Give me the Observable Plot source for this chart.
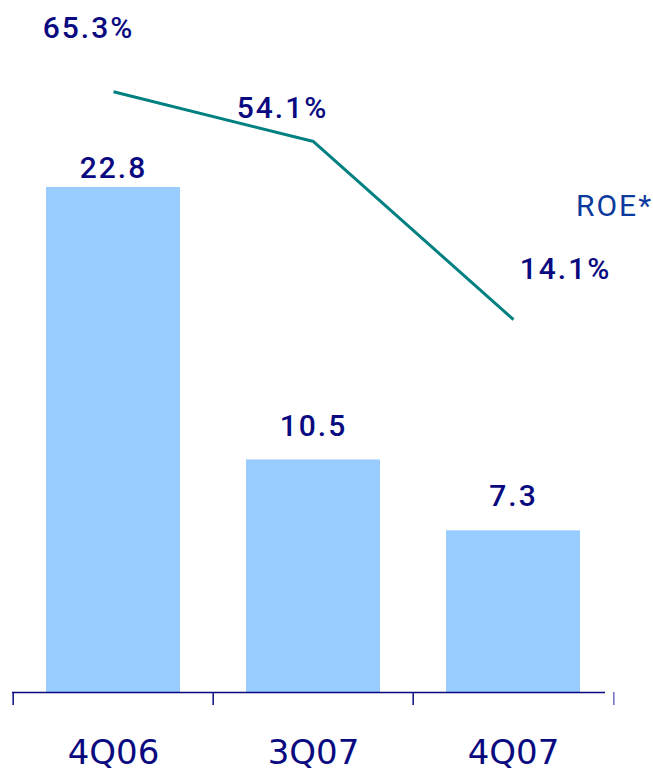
<!DOCTYPE html>
<html>
<head>
<meta charset="utf-8">
<script src="https://cdn.jsdelivr.net/npm/d3@7"></script>
<script src="https://cdn.jsdelivr.net/npm/@observablehq/plot@0.6"></script>
<style>
  html, body { margin: 0; padding: 0; background: #ffffff; }
  #chart { width: 653px; height: 770px; }
</style>
</head>
<body>
<div id="chart"></div>
<script>
// ---- data ----
const categories = ["4Q06", "3Q07", "4Q07"];
const netIncome = [22.8, 10.5, 7.3];
const roe = [65.3, 54.1, 14.1];
const barLabels = ["22.8", "10.5", "7.3"];
const roeLabels = ["65.3%", "54.1%", "14.1%"];
const seriesLabel = "ROE*";

const data = categories.map((c, i) => ({
  c, v: netIncome[i], r: roe[i], bl: barLabels[i], rl: roeLabels[i]
}));

// ---- styles ----
const navy = "#0a0a80";
const roeBlue = "#0c3a9c";
const barFill = "#99ccff";
const lineColor = "#008080";

const W = 653, H = 770;
const xRange = [12, 614];
const yRange = [692, 187];
const yDomain = [0, 22.8];
const step = (xRange[1] - xRange[0]) / categories.length;
const pxPerUnit = (yRange[0] - yRange[1]) / (yDomain[1] - yDomain[0]);
const tickLen = 13 / pxPerUnit;

// secondary (ROE %) axis expressed in the primary y units
const roeAxis = d3.scaleLinear().domain([0, 100]).range([14.0, 34.1]);

const numFont = {fontSize: 30, fontFamily: "Roboto", fontWeight: 500};

function barLabel(i, dy) {
  return Plot.text(data, {
    filter: (d, j) => j === i, x: "c", y: "v", text: "bl",
    lineAnchor: "bottom", textAnchor: "middle", dy, fill: navy, ...numFont
  });
}
function roeLabel(i, dx, dy) {
  return Plot.text(data, {
    filter: (d, j) => j === i, x: "c", y: d => roeAxis(d.r), text: "rl",
    lineAnchor: "bottom", textAnchor: "middle", dx, dy, fill: navy, ...numFont
  });
}

const chart = Plot.plot({
  width: W,
  height: H,
  marginTop: 0, marginRight: 0, marginBottom: 0, marginLeft: 0,
  style: {background: "#ffffff", fontFamily: "Roboto", letterSpacing: "2px", overflow: "visible"},
  x: {type: "band", domain: categories, range: xRange, paddingInner: 0.329, paddingOuter: 0.1645, axis: null},
  y: {domain: yDomain, range: yRange, axis: null},
  marks: [
    Plot.barY(data, {x: "c", y: "v", fill: barFill}),
    Plot.ruleY([0], {stroke: navy, strokeWidth: 1.5, insetLeft: 12, insetRight: 48}),
    Plot.ruleX(data, {x: "c", y1: 0, y2: -tickLen, dx: -step / 2, stroke: navy, strokeWidth: 1.5}),
    Plot.ruleX(data.slice(-1), {x: "c", y1: 0, y2: -tickLen, dx: step / 2, stroke: "#6c6cc4", strokeWidth: 1.5}),
    Plot.line(data, {x: "c", y: d => roeAxis(d.r), stroke: lineColor, strokeWidth: 3, strokeLinejoin: "miter", strokeLinecap: "butt"}),
    barLabel(0, -10),
    barLabel(1, -24),
    barLabel(2, -25),
    roeLabel(0, -25, -54),
    roeLabel(1, -31, -24),
    roeLabel(2, 52, -41),
    Plot.text([seriesLabel], {
      x: () => categories[2], y: () => roeAxis(roe[2]), text: d => d,
      lineAnchor: "bottom", textAnchor: "middle", dx: 101, dy: -104,
      fill: roeBlue, fontSize: 30, fontFamily: "Roboto", fontWeight: 400
    }),
    Plot.text(data, {
      x: "c", text: "c", frameAnchor: "bottom", lineAnchor: "bottom", textAnchor: "middle",
      dy: -7, fill: navy, fontSize: 34, fontFamily: "DejaVu Sans"
    })
  ]
});

// number labels in the reference are letter-spaced; category labels are not
d3.select(chart).selectAll('g[font-family="DejaVu Sans"]').style("letter-spacing", "0px");
d3.select(chart).selectAll('g[font-family="DejaVu Sans"] text').style("letter-spacing", "0px");
document.getElementById("chart").appendChild(chart);
</script>
</body>
</html>
